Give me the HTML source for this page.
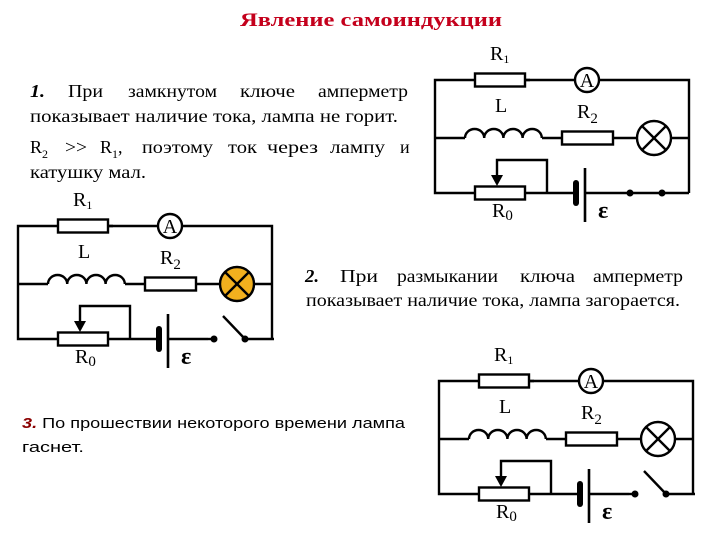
<!DOCTYPE html>
<html><head><meta charset="utf-8"><style>
body{margin:0;background:#fff;}
svg{display:block}
.t{font-family:"Liberation Serif",serif;font-size:18px;fill:#000}
.l{font-family:"Liberation Serif",serif;font-size:20px;fill:#000}
</style></head><body>
<svg width="720" height="540" viewBox="0 0 720 540" xmlns="http://www.w3.org/2000/svg">
<defs>
<g id="base" stroke="#000" stroke-width="2.4" fill="none">
  <polyline points="95,0 0,0 0,113 40,113"/>
  <line x1="90" y1="0" x2="140" y2="0"/>
  <polyline points="164,0 254,0 254,113"/>
  <rect x="40" y="-6.5" width="50" height="13" fill="#fff"/>
  <circle cx="152" cy="0" r="12" fill="#fff"/>
  <line x1="0" y1="58" x2="30" y2="58"/>
  <path d="M30,58 a9.6,9 0 0 1 19.2,0 a9.6,9 0 0 1 19.2,0 a9.6,9 0 0 1 19.2,0 a9.6,9 0 0 1 19.2,0"/>
  <line x1="107" y1="58" x2="127" y2="58"/>
  <rect x="127" y="51.5" width="51" height="13" fill="#fff"/>
  <line x1="178" y1="58" x2="202" y2="58"/>
  <line x1="236" y1="58" x2="254" y2="58"/>
  <line x1="90" y1="113" x2="141" y2="113"/>
  <rect x="40" y="106.5" width="50" height="13" fill="#fff"/>
  <polyline points="62,100 62,80 112,80 112,113"/>
  <line x1="150" y1="113" x2="190" y2="113"/>
  <line x1="150" y1="88" x2="150" y2="142" stroke-width="2.6"/>
</g>
<g id="lab">
  <path d="M56,95 L68,95 L62,106 Z" fill="#000"/>
  <rect x="138" y="100" width="6" height="26" rx="3" fill="#000"/>
  <text class="l" x="55" y="-20">R<tspan font-size="12" dy="3">1</tspan></text>
  <text class="l" x="60" y="32">L</text>
  <text class="l" x="142" y="38">R<tspan font-size="15" dy="5">2</tspan></text>
  <text class="l" x="57" y="137">R<tspan font-size="15" dy="3">0</tspan></text>
  <text x="163" y="138" font-family="Liberation Serif,serif" font-size="24" font-weight="bold">ε</text>
  <text class="l" x="152" y="7" font-size="18" text-anchor="middle">A</text>
</g>
</defs>

<text x="240" y="26" font-family="Liberation Serif,serif" font-weight="bold" font-size="19" fill="#c4001c" textLength="262" lengthAdjust="spacingAndGlyphs">Явление  самоиндукции</text>

<g class="t">
<text class="t" x="30" y="97" fill="#8b0000" font-weight="bold" font-style="italic" textLength="15" lengthAdjust="spacingAndGlyphs">1.</text>
<text class="t" x="68" y="97" textLength="35" lengthAdjust="spacingAndGlyphs">При</text>
<text class="t" x="128" y="97" textLength="89" lengthAdjust="spacingAndGlyphs">замкнутом</text>
<text class="t" x="240" y="97" textLength="55" lengthAdjust="spacingAndGlyphs">ключе</text>
<text class="t" x="318" y="97" textLength="90" lengthAdjust="spacingAndGlyphs">амперметр</text>
<text class="t" x="30" y="122" textLength="368" lengthAdjust="spacingAndGlyphs">показывает наличие тока, лампа не горит.</text>

<text class="t" x="30" y="153">R<tspan font-size="12" dy="5">2</tspan></text>
<text class="t" x="65" y="153" textLength="22" lengthAdjust="spacingAndGlyphs">&gt;&gt;</text>
<text class="t" x="100" y="153">R<tspan font-size="12" dy="5">1</tspan><tspan dy="-5">,</tspan></text>
<text class="t" x="142" y="153" textLength="71" lengthAdjust="spacingAndGlyphs">поэтому</text>
<text class="t" x="228" y="153" textLength="29" lengthAdjust="spacingAndGlyphs">ток</text>
<text class="t" x="267" y="153" textLength="51" lengthAdjust="spacingAndGlyphs">через</text>
<text class="t" x="330" y="153" textLength="55" lengthAdjust="spacingAndGlyphs">лампу</text>
<text class="t" x="400" y="153">и</text>
<text class="t" x="30" y="178" textLength="116" lengthAdjust="spacingAndGlyphs">катушку мал.</text>

<text class="t" x="305" y="282" fill="#8b0000" font-weight="bold" font-style="italic" textLength="14" lengthAdjust="spacingAndGlyphs">2.</text>
<text class="t" x="340" y="282" textLength="38" lengthAdjust="spacingAndGlyphs">При</text>
<text class="t" x="397" y="282" textLength="101" lengthAdjust="spacingAndGlyphs">размыкании</text>
<text class="t" x="520" y="282" textLength="55" lengthAdjust="spacingAndGlyphs">ключа</text>
<text class="t" x="593" y="282" textLength="90" lengthAdjust="spacingAndGlyphs">амперметр</text>
<text class="t" x="306" y="306" textLength="374" lengthAdjust="spacingAndGlyphs">показывает наличие тока, лампа загорается.</text>
</g>

<text x="22" y="428" font-family="Liberation Sans,sans-serif" font-size="15" textLength="383" lengthAdjust="spacingAndGlyphs"><tspan fill="#8b0000" font-weight="bold" font-style="italic">3.</tspan> По прошествии некоторого времени лампа</text>
<text x="22" y="452" font-family="Liberation Sans,sans-serif" font-size="15" textLength="62" lengthAdjust="spacingAndGlyphs">гаснет.</text>

<g transform="translate(435,80)">
  <use href="#base"/>
  <line x1="190" y1="113" x2="254" y2="113" stroke="#000" stroke-width="2.4"/>
  <circle cx="195" cy="113" r="3.5" fill="#000"/><circle cx="227" cy="113" r="3.5" fill="#000"/>
  <g stroke="#000" stroke-width="2.4"><circle cx="219" cy="58" r="17" fill="#fff"/><line x1="207" y1="46" x2="231" y2="70"/><line x1="231" y1="46" x2="207" y2="70"/></g>
  <use href="#lab"/>
</g>

<g transform="translate(18,226)">
  <use href="#base"/>
  <line x1="190" y1="113" x2="196" y2="113" stroke="#000" stroke-width="2.4"/>
  <line x1="227" y1="113" x2="256" y2="113" stroke="#000" stroke-width="2.4"/>
  <line x1="227" y1="113" x2="205" y2="90" stroke="#000" stroke-width="2.4"/>
  <circle cx="196" cy="113" r="3.5" fill="#000"/><circle cx="227" cy="113" r="3.5" fill="#000"/>
  <g stroke="#000" stroke-width="2.4"><circle cx="219" cy="58" r="17" fill="#f2b01e"/><line x1="207" y1="46" x2="231" y2="70"/><line x1="231" y1="46" x2="207" y2="70"/></g>
  <use href="#lab"/>
</g>

<g transform="translate(439,381)">
  <use href="#base"/>
  <line x1="190" y1="113" x2="196" y2="113" stroke="#000" stroke-width="2.4"/>
  <line x1="227" y1="113" x2="256" y2="113" stroke="#000" stroke-width="2.4"/>
  <line x1="227" y1="113" x2="205" y2="90" stroke="#000" stroke-width="2.4"/>
  <circle cx="196" cy="113" r="3.5" fill="#000"/><circle cx="227" cy="113" r="3.5" fill="#000"/>
  <g stroke="#000" stroke-width="2.4"><circle cx="219" cy="58" r="17" fill="#fff"/><line x1="207" y1="46" x2="231" y2="70"/><line x1="231" y1="46" x2="207" y2="70"/></g>
  <use href="#lab"/>
</g>
</svg>
</body></html>
